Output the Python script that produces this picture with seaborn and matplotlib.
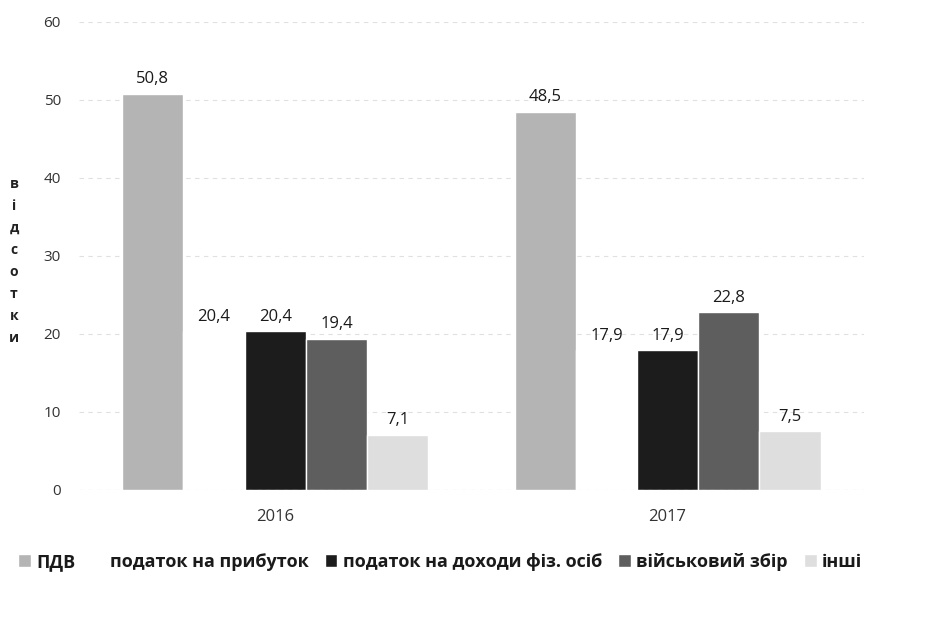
import pandas as pd
import seaborn as sns
import matplotlib.pyplot as plt

# values
years = ["2016", "2017"]
taxes = ["ПДВ", "податок на прибуток", "податок на доходи фіз. осіб",
         "військовий збір", "інші"]
share_2016 = [50.8, 20.4, 20.4, 19.4, 7.1]
share_2017 = [48.5, 17.9, 17.9, 22.8, 7.5]
colors = ["#b4b4b4", "#ffffff", "#1c1c1c", "#5e5e5e", "#dedede"]

rows = []
for year, vals in zip(years, [share_2016, share_2017]):
    for tax, v in zip(taxes, vals):
        rows.append([year, tax, v])
df = pd.DataFrame(rows, columns=["Рік", "Податок", "Відсоток"])

sns.set_style("white")
plt.rcParams["font.family"] = ["Open Sans", "DejaVu Sans"]

fig = plt.figure(figsize=(9.32, 6.43), dpi=100)
ax = fig.add_axes([0.0848, 0.238, 0.842, 0.728])

sns.barplot(data=df, x="Рік", y="Відсоток", hue="Податок", hue_order=taxes,
            palette=colors, width=0.78, saturation=1, ax=ax)

for c in ax.containers:
    ax.bar_label(c, labels=[f"{b.get_height():.1f}".replace(".", ",") for b in c],
                 padding=4.5, fontsize=12, color="#1a1a1a")

ax.set_ylim(0, 60)
ax.set_xlim(-0.5, 1.5)
ax.set_yticks(range(0, 61, 10))
ax.yaxis.grid(True, color="#e0e0e0", linestyle=(0, (4, 4)), linewidth=0.8)
ax.set_axisbelow(True)
sns.despine(ax=ax, left=True, bottom=True)
ax.axhline(0, color="#dddddd", linewidth=0.8, linestyle=(0, (4, 4)))
ax.tick_params(axis="y", length=0, pad=13, labelsize=11, labelcolor="#333333")
ax.tick_params(axis="x", length=0, pad=14, labelsize=12, labelcolor="#333333")
ax.set_xlabel("")
ax.set_ylabel("")

fig.text(0.015, 0.594, "\n".join("відсотки"), ha="center", va="center",
         fontsize=10, fontweight="bold", linespacing=1.73, color="#222222")

sns.move_legend(ax, "center", bbox_to_anchor=(0.460, -0.154), ncol=5,
                frameon=False, title=None, fontsize=13,
                handlelength=0.7, handleheight=0.7, handletextpad=0.3,
                columnspacing=0.9)
for t in ax.get_legend().get_texts():
    t.set_fontweight("bold")
    t.set_color("#1a1a1a")

fig.savefig("out.png", dpi=100)
